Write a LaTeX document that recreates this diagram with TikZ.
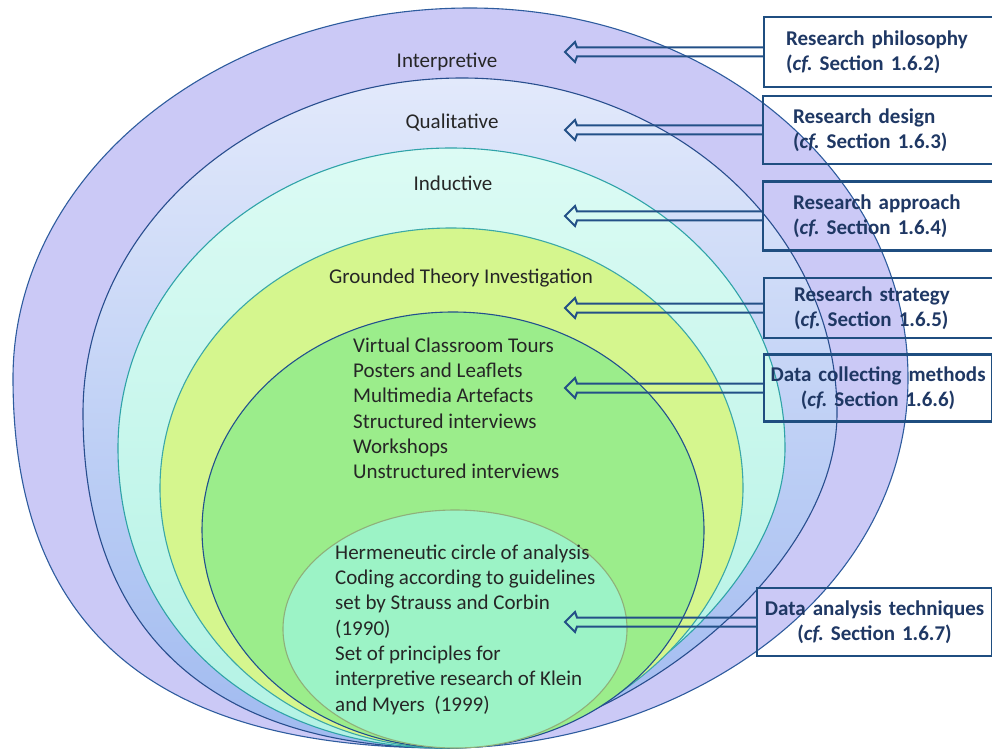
\documentclass[tikz,border=0pt]{standalone}
\usepackage{fontspec}
\setmainfont{Carlito}
\frenchspacing
\definecolor{fillA}{RGB}{203,201,246}
\definecolor{lineA}{RGB}{46,92,158}
\definecolor{fillBtop}{RGB}{226,233,251}
\definecolor{fillBbot}{RGB}{160,186,240}
\definecolor{lineB}{RGB}{40,78,142}
\definecolor{fillCtop}{RGB}{220,251,244}
\definecolor{fillCbot}{RGB}{178,242,228}
\definecolor{lineC}{RGB}{47,163,168}
\definecolor{fillD}{RGB}{213,246,142}
\definecolor{lineD}{RGB}{58,168,168}
\definecolor{fillE}{RGB}{155,237,139}
\definecolor{lineE}{RGB}{34,80,142}
\definecolor{fillF}{RGB}{156,243,198}
\definecolor{lineF}{RGB}{143,176,122}
\definecolor{boxblue}{RGB}{31,78,128}
\definecolor{boxtext}{RGB}{31,56,100}
\definecolor{labeltext}{RGB}{38,38,38}
\definecolor{arrblue}{RGB}{35,80,135}
\newcommand\hollowarrow[2]{%
  \draw[arrline] ([yshift=4.5pt]#1.west) -- ([xshift=12pt,yshift=4.5pt]#2)
    -- ([xshift=10pt,yshift=10pt]#2) -- (#2) -- ([xshift=10pt,yshift=-10pt]#2)
    -- ([xshift=12pt,yshift=-4.5pt]#2) -- ([yshift=-4.5pt]#1.west);}
\begin{document}
\begin{tikzpicture}[x=1pt,y=-1pt,
  ell/.style={line width=1.1pt},
  lbl/.style={text=labeltext,font=\fontsize{21}{25.3}\selectfont,inner sep=0pt},
  lst/.style={lbl,align=left,anchor=north west},
  box/.style={draw=boxblue,line width=2.2pt,text=boxtext,
    font=\fontsize{21}{25}\selectfont\bfseries,inner ysep=0pt,anchor=west},
  lbox/.style={box,align=left,inner xsep=#1,text width=235pt-2*#1},
  cbox/.style={box,align=center,inner xsep=4pt,text width=#1},
  arrline/.style={draw=arrblue,line width=2pt,line join=miter}]
\useasboundingbox (0,0) rectangle (992,751);
% nested egg-shaped rings, outermost first
\path[ell,draw=lineA,fill=fillA]
  (445,748) .. controls (164.2,748) and (13,637) .. (13,378)
  .. controls (13,173.6) and (217.6,8) .. (470,8)
  .. controls (711.9,8) and (908,173.6) .. (908,378)
  .. controls (908,600) and (676.5,748) .. (445,748) -- cycle;
\path[ell,draw=lineB,top color=fillBtop,bottom color=fillBbot]
  (445,748) .. controls (220.6,748) and (83,640.8) .. (83,413)
  .. controls (83,228) and (252.7,78) .. (462,78)
  .. controls (669.1,78) and (837,228) .. (837,413)
  .. controls (837,580.5) and (601.8,748) .. (445,748) -- cycle;
\path[ell,draw=lineC,top color=fillCtop,bottom color=fillCbot]
  (445,748) .. controls (255.3,748) and (118,628) .. (118,448)
  .. controls (118,282.3) and (267.1,148) .. (451,148)
  .. controls (635.5,148) and (785,282.3) .. (785,448)
  .. controls (785,598) and (581,748) .. (445,748) -- cycle;
\path[ell,draw=lineD,fill=fillD]
  (448,748) .. controls (288.9,748) and (160,631.6) .. (160,488)
  .. controls (160,344.4) and (290.3,228) .. (451,228)
  .. controls (612.3,228) and (743,344.4) .. (743,488)
  .. controls (743,623.2) and (595.5,748) .. (448,748) -- cycle;
\path[ell,draw=lineE,fill=fillE] (453,530) ellipse [x radius=251pt,y radius=218pt];
\path[ell,draw=lineF,fill=fillF] (455,629) ellipse [x radius=172pt,y radius=119pt];
% labels
\node[lbl] (interp) at (447,62) {Interpretive};
\node[lbl] (qual) at (452,123) {Qualitative};
\node[lbl] (induct) at (453,183) {Inductive};
\node[lbl] (grounded) at (461,278) {Grounded Theory Investigation};
\node[lst] (methods) at (353,337.5) {Virtual Classroom Tours\\Posters and Leaflets\\Multimedia Artefacts\\Structured interviews\\Workshops\\Unstructured interviews};
\node[lst] (analysis) at (335,544.5) {Hermeneutic circle of analysis\\Coding according to guidelines\\set by Strauss and Corbin\\(1990)\\Set of principles for\\interpretive research of Klein\\and Myers\ \ (1999)};
% boxes
\node[lbox=22pt,minimum height=70pt] (b1) at (763,52) {Research philosophy\\(\textit{cf.} Section 1.6.2)};
\node[lbox=30pt,minimum height=68pt] (b2) at (762,130) {Research design\\(\textit{cf.} Section 1.6.3)};
\node[lbox=30pt,minimum height=69pt] (b3) at (762,216) {Research approach\\(\textit{cf.} Section 1.6.4)};
\node[lbox=30pt,minimum height=60pt] (b4) at (763,308) {Research strategy\\(\textit{cf.} Section 1.6.5)};
\node[cbox=220pt,minimum height=67pt] (b5) at (763,388) {Data collecting methods\\(\textit{cf.} Section 1.6.6)};
\node[cbox=227pt,minimum height=68pt] (b6) at (756,622) {Data analysis techniques\\(\textit{cf.} Section 1.6.7)};
% arrow tips
\coordinate (t1) at (565,52);
\coordinate (t2) at (565,130);
\coordinate (t3) at (565,216);
\coordinate (t4) at (565,308);
\coordinate (t5) at (565,388);
\coordinate (t6) at (565,622);
\hollowarrow{b1}{t1}
\hollowarrow{b2}{t2}
\hollowarrow{b3}{t3}
\hollowarrow{b4}{t4}
\hollowarrow{b5}{t5}
\hollowarrow{b6}{t6}
\end{tikzpicture}
\end{document}
